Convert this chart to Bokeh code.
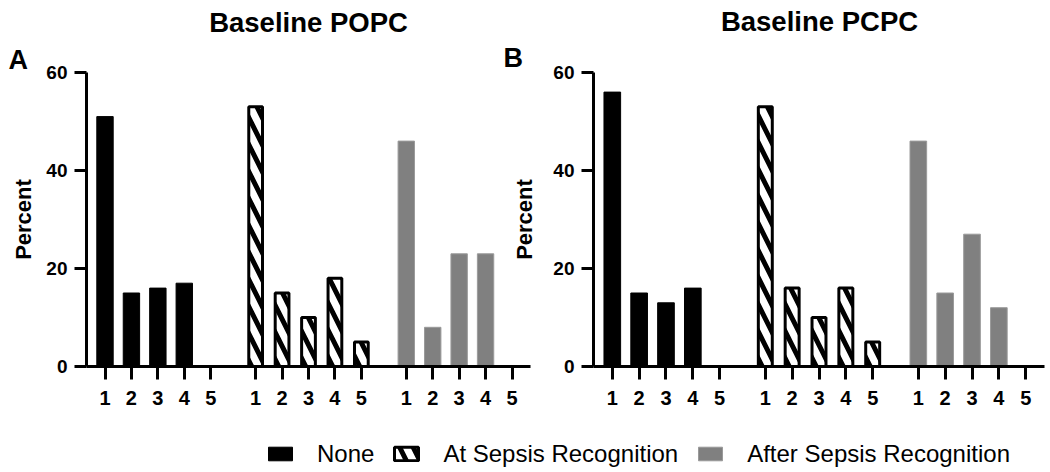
import numpy as np
from bokeh.plotting import figure
from bokeh.models import Range1d, FixedTicker, Label, Legend, LegendItem, ColumnDataSource
from bokeh.layouts import column, row
from bokeh.embed import file_html
from bokeh.resources import INLINE

# ---------------- data ----------------
categories = ["1", "2", "3", "4", "5"]
series = ["None", "At Sepsis Recognition", "After Sepsis Recognition"]
popc_none = [51, 15, 16, 17, 0]
popc_at = [53, 15, 10, 18, 5]
popc_after = [46, 8, 23, 23, 0]
pcpc_none = [56, 15, 13, 16, 0]
pcpc_at = [53, 16, 10, 16, 5]
pcpc_after = [46, 15, 27, 12, 0]
y_ticks = [0, 20, 40, 60]
titles = ["Baseline POPC", "Baseline PCPC"]
panel_letters = ["A", "B"]
y_label = "Percent"

# ---------------- layout / style ----------------
FONT = "Liberation Sans"
STEP = 10     # x units per category
GROUP = 57    # x units per group (5 categories + gap)
X_START, X_END = 3, 171
HEADER_H = 80
OVERLAP = 40
PLOT_H = 374
LABEL_SHIFT = 11   # measured offset of the label anchor


def positions(gi):
    return [gi * GROUP + (ci + 1) * STEP for ci in range(len(categories))]


STYLES = [
    dict(fill_color="black", line_color="black", line_width=1, width=6.2),
    dict(fill_color="white", line_color="black", line_width=3, hatch_pattern="\\",
         hatch_color="black", hatch_weight=5, hatch_scale=27, width=5.2),
    dict(fill_color="#808080", line_color="#9a9a9a", line_width=1, width=6.2),
]

all_ticks = [t for gi in range(len(series)) for t in positions(gi)]
overrides = {t: categories[i % len(categories)] for i, t in enumerate(all_ticks)}


def make_panel(values, width, mbl, mbr, mbt, mbb, label_standoff):
    p = figure(width=width, height=PLOT_H, x_range=Range1d(X_START, X_END),
               y_range=Range1d(y_ticks[0], y_ticks[-1]), output_backend="svg",
               toolbar_location=None, min_border_left=mbl, min_border_right=mbr,
               min_border_top=mbt, min_border_bottom=mbb)
    p.outline_line_color = None
    p.border_fill_color = None
    p.xgrid.visible = False
    p.ygrid.visible = False
    for gi, vals in enumerate(values):
        src = ColumnDataSource(dict(x=positions(gi), top=vals))
        p.vbar(x="x", top="top", bottom=0, source=src, **STYLES[gi])
    for ax in (p.xaxis[0], p.yaxis[0]):
        ax.axis_line_width = 3
        ax.axis_line_color = "black"
        ax.major_tick_line_width = 3
        ax.major_tick_line_color = "black"
        ax.major_tick_in = 0
        ax.minor_tick_line_color = None
        ax.major_label_text_font = FONT
        ax.major_label_text_font_style = "bold"
        ax.major_label_text_color = "black"
    xa = p.xaxis[0]
    xa.ticker = FixedTicker(ticks=all_ticks, minor_ticks=[])
    xa.major_label_overrides = overrides
    xa.major_tick_out = 13
    xa.major_label_standoff = 11
    xa.major_label_text_font_size = "20px"
    ya = p.yaxis[0]
    ya.ticker = FixedTicker(ticks=y_ticks, minor_ticks=[])
    ya.major_tick_out = 12
    ya.major_label_standoff = 7
    ya.major_label_text_font_size = "19px"
    ya.axis_label = y_label
    ya.axis_label_text_font = FONT
    ya.axis_label_text_font_style = "bold"
    ya.axis_label_text_font_size = "22px"
    ya.axis_label_text_color = "black"
    ya.axis_label_standoff = label_standoff
    return p


# header figure with the titles and panel letters
pH = figure(width=1048, height=HEADER_H, output_backend="svg", toolbar_location=None,
            x_axis_type=None, y_axis_type=None, x_range=Range1d(0, 1), y_range=Range1d(0, 1),
            min_border=0, min_border_left=0, min_border_right=0, min_border_top=0,
            min_border_bottom=0)
pH.outline_line_color = None
pH.xgrid.visible = False
pH.ygrid.visible = False


def add_label(text, x, baseline, size, align):
    pH.add_layout(Label(x=x, y=HEADER_H - baseline + LABEL_SHIFT, x_units="screen",
                        y_units="screen", text=text, text_font=FONT,
                        text_font_style="bold", text_font_size=size, text_align=align,
                        text_baseline="alphabetic", text_color="black"))


add_label(titles[0], 308, 33, "27.5px", "center")
add_label(titles[1], 819, 32, "27.5px", "center")
add_label(panel_letters[0], 8, 70, "27px", "left")
add_label(panel_letters[1], 503, 68, "27px", "left")

top_a = 72 - (HEADER_H - OVERLAP)
top_b = 69 - (HEADER_H - OVERLAP)
pA = make_panel([popc_none, popc_at, popc_after], 537, 86, 7, top_a, 48, 7)
pB = make_panel([pcpc_none, pcpc_at, pcpc_after], 551, 96, 4, top_b, 47, 13)
pB.margin = (0, 0, 0, -40)
plots = row(pA, pB)
plots.margin = (-OVERLAP, 0, 0, 0)

# legend figure (its sample renderers hold no drawable data)
pL = figure(width=1048, height=56, output_backend="svg", toolbar_location=None,
            x_axis_type=None, y_axis_type=None, x_range=Range1d(0, 1),
            y_range=Range1d(0, 1), min_border=0, min_border_left=0,
            min_border_right=0, min_border_top=0, min_border_bottom=0)
pL.outline_line_color = None
pL.xgrid.visible = False
pL.ygrid.visible = False
items = []
for gi, name in enumerate(series):
    r = pL.vbar(x=np.array([np.nan]), top=np.array([np.nan]), bottom=0, **STYLES[gi])
    items.append(LegendItem(label=name, renderers=[r]))
legend = Legend(items=items, orientation="horizontal", location=(265, 2.5),
                glyph_width=30, glyph_height=17, label_standoff=22, spacing=17,
                padding=0, margin=0, border_line_color=None, background_fill_alpha=0,
                label_text_font=FONT, label_text_font_size="24px", label_text_color="black")
pL.add_layout(legend)

layout = column(pH, plots, pL)
open("out.html", "w").write(file_html(layout, INLINE))
